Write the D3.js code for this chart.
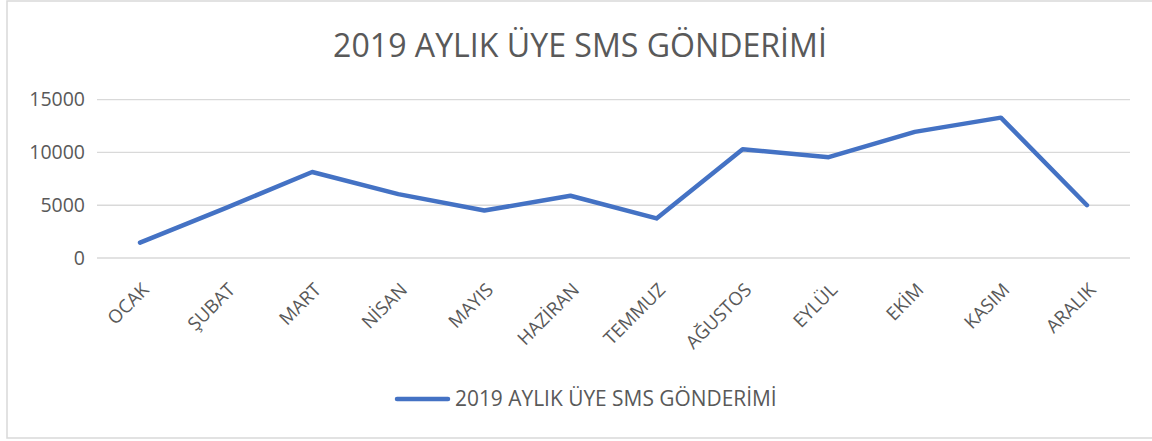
<!DOCTYPE html>
<html>
<head>
<meta charset="utf-8">
<script src="https://cdn.jsdelivr.net/npm/d3@7"></script>
<style>
  body { margin: 0; background: #fff; }
  text { font-family: "Open Sans", sans-serif; fill: #595959; }
</style>
</head>
<body>
<div id="chart"></div>
<script>
const months = ["OCAK", "ŞUBAT", "MART", "NİSAN", "MAYIS", "HAZİRAN", "TEMMUZ", "AĞUSTOS", "EYLÜL", "EKİM", "KASIM", "ARALIK"];
const smsCounts = [1450, 4750, 8150, 6050, 4500, 5900, 3750, 10300, 9550, 11950, 13300, 5000];
const yTicks = [0, 5000, 10000, 15000];
const title = "2019 AYLIK ÜYE SMS GÖNDERİMİ";

const width = 1152;
const height = 441;
const plot = { left: 97, right: 1130, top: 99.7, bottom: 258 };

const svg = d3.select("#chart").append("svg")
    .attr("width", width)
    .attr("height", height);

// chart border
svg.append("rect")
    .attr("x", 7).attr("y", 1)
    .attr("width", 1160).attr("height", 437)
    .attr("fill", "none")
    .attr("stroke", "#d9d9d9")
    .attr("stroke-width", 1.5);

const x = d3.scaleBand()
    .domain(months)
    .range([plot.left, plot.right]);

const y = d3.scaleLinear()
    .domain([0, 15000])
    .range([plot.bottom, plot.top]);

// fit a text element to a target width
function fitWidth(sel, target) {
    const w = sel.node().getComputedTextLength();
    const fs = parseFloat(sel.attr("font-size"));
    sel.attr("font-size", fs * target / w);
}

// title
const t = svg.append("text")
    .attr("x", 580).attr("y", 57)
    .attr("text-anchor", "middle")
    .attr("font-size", 28)
    .text(title);
fitWidth(t, 494);

// gridlines
svg.append("g")
    .selectAll("line")
    .data(yTicks)
    .join("line")
    .attr("x1", plot.left).attr("x2", plot.right)
    .attr("y1", d => y(d)).attr("y2", d => y(d))
    .attr("stroke", "#d9d9d9")
    .attr("stroke-width", 1.3);

// y axis labels
const yAxis = svg.append("g")
    .attr("transform", `translate(${plot.left},0)`)
    .call(d3.axisLeft(y).tickValues(yTicks).tickFormat(d3.format("d")).tickSize(0).tickPadding(12));
yAxis.select(".domain").remove();
yAxis.selectAll("text")
    .attr("font-size", 19.5)
    .attr("font-family", "Open Sans, sans-serif")
    .attr("fill", "#595959");

// x axis labels
const xAxis = svg.append("g")
    .attr("transform", `translate(0,${plot.bottom})`)
    .call(d3.axisBottom(x).tickSize(0).tickPadding(0));
xAxis.select(".domain").remove();
xAxis.selectAll("text")
    .attr("font-size", 18.5)
    .attr("font-family", "Open Sans, sans-serif")
    .attr("fill", "#595959")
    .attr("text-anchor", "end")
    .attr("dy", 0)
    .attr("transform", "translate(10,33) rotate(-45)");

// line
const line = d3.line()
    .x((d, i) => x(months[i]) + x.bandwidth() / 2)
    .y(d => y(d));

svg.append("path")
    .datum(smsCounts)
    .attr("d", line)
    .attr("fill", "none")
    .attr("stroke", "#4472c4")
    .attr("stroke-width", 4.5)
    .attr("stroke-linejoin", "round")
    .attr("stroke-linecap", "round");

// legend
svg.append("line")
    .attr("x1", 397).attr("x2", 448)
    .attr("y1", 399).attr("y2", 399)
    .attr("stroke", "#4472c4")
    .attr("stroke-width", 4.5)
    .attr("stroke-linecap", "round");

const lg = svg.append("text")
    .attr("x", 455).attr("y", 406)
    .attr("font-size", 17)
    .text(title);
fitWidth(lg, 322);
</script>
</body>
</html>
